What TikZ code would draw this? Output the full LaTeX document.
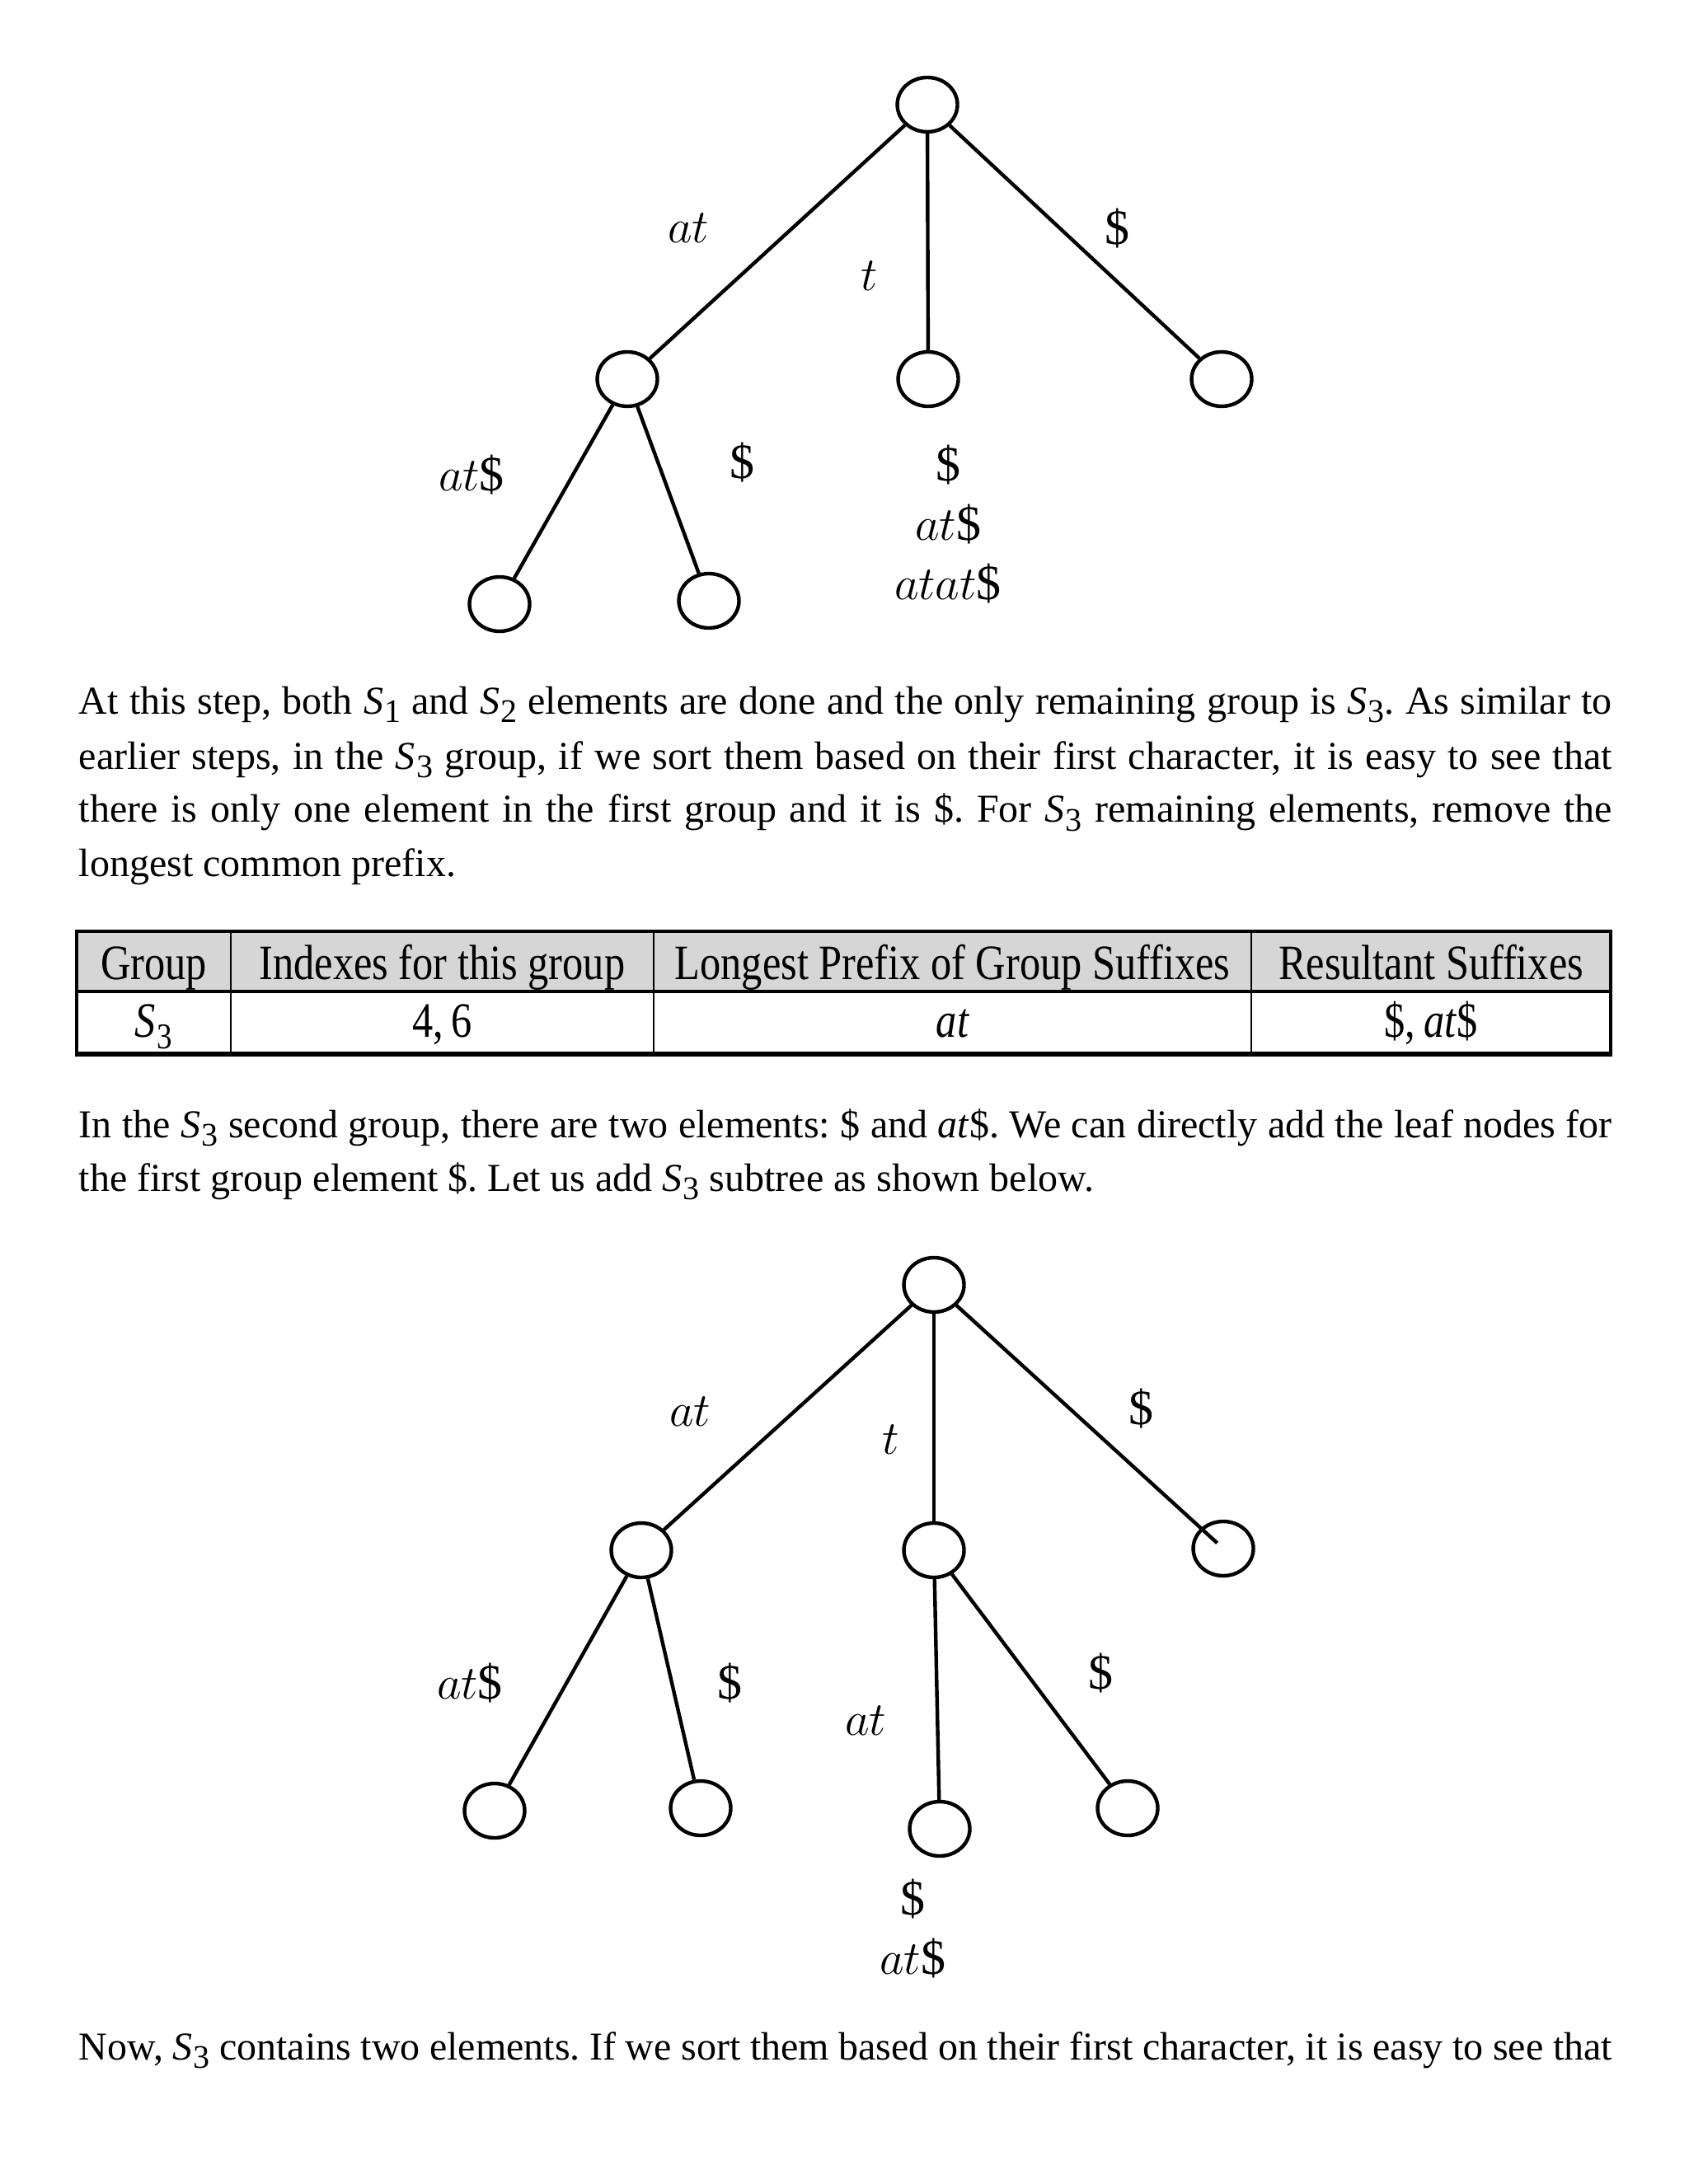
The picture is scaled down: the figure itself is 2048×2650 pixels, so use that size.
\documentclass[tikz,border=0pt]{standalone}
\usepackage{fontspec}
\setmainfont{Liberation Serif}
\newfontfamily\tabfont[FakeStretch=0.84]{Liberation Serif}
\usetikzlibrary{shapes.geometric}
\frenchspacing
\newcommand\Sx[1]{\textit{S}\kern0.3pt\raisebox{-2.5pt}{\fontsize{10}{12}\selectfont #1}}
\newcommand\dol{\textup{\$}}
\tikzset{
  tnode/.style={ellipse, draw, line width=1.1pt, minimum width=18.25pt, minimum height=16.5pt, inner sep=0pt},
  tedge/.style={line width=1.1pt},
  lbl/.style={font=\fontsize{15}{18}\selectfont, inner sep=0pt, align=center},
  para/.style={anchor=base west, inner sep=0pt, font=\fontsize{12}{16.25}\selectfont},
  thead/.style={anchor=base, inner sep=0pt, font=\tabfont\fontsize{15}{18}\selectfont},
  tbody/.style={anchor=base, inner sep=0pt, font=\tabfont\fontsize{15}{18}\selectfont},
}
\begin{document}
\begin{tikzpicture}[x=0.25pt, y=-0.25pt]
\useasboundingbox[fill=white] (0,0) rectangle (2048,2650);

% ---------- first tree ----------
\node[tnode] (R1) at (1125,127) {};
\node[tnode] (A1) at (761,460) {};
\node[tnode] (M1) at (1126,460) {};
\node[tnode] (Q1) at (1482,460) {};
\node[tnode] (L1) at (606,733) {};
\node[tnode] (N1) at (860,729) {};
\draw[tedge] (R1) -- (A1);
\draw[tedge] (R1) -- (M1);
\draw[tedge] (R1) -- (Q1);
\draw[tedge] (A1) -- (L1);
\draw[tedge] (A1) -- (N1);
\node[lbl] (la1) at (835,277) {$at$};
\node[lbl] (lt1) at (1055,335) {$t$};
\node[lbl] (ld1) at (1355,277) {\dol};
\node[lbl] (lat1) at (572,576) {$at$\dol};
\node[lbl] (ldd1) at (900,561) {\dol};
\node[lbl] (stk1) at (1150,636) {\dol\\$at$\dol\\$atat$\dol};

% ---------- paragraph 1 ----------
\node[para] (p1a) at (95,867) {\makebox[465pt][s]{At this step, both \Sx{1} and \Sx{2} elements are done and the only remaining group is \Sx{3}. As similar to}};
\node[para] (p1b) at (95,933) {\makebox[465pt][s]{earlier steps, in the \Sx{3} group, if we sort them based on their first character, it is easy to see that}};
\node[para] (p1c) at (95,998) {\makebox[465pt][s]{there is only one element in the first group and it is \$. For \Sx{3} remaining elements, remove the}};
\node[para] (p1d) at (95,1063) {longest common prefix.};

% ---------- table ----------
\fill[black!16] (93,1130) rectangle (1954,1203);
\draw[line width=0.8pt] (93,1203) -- (1954,1203);
\draw[line width=0.6pt] (280,1130) -- (280,1280);
\draw[line width=0.6pt] (793,1130) -- (793,1280);
\draw[line width=0.6pt] (1518,1130) -- (1518,1280);
\draw[line width=1pt] (93,1130) rectangle (1954,1280);
\draw[line width=1.5pt] (93,1279) -- (1954,1279);
\node[thead] (h1) at (186.5,1188) {Group};
\node[thead] (h2) at (536.5,1188) {Indexes for this group};
\node[thead] (h3) at (1155.5,1188) {Longest Prefix of Group Suffixes};
\node[thead] (h4) at (1736,1188) {Resultant Suffixes};
\node[tbody] (b1) at (186.5,1258) {\itshape S\kern0.5pt\raisebox{-3.5pt}{\fontsize{11}{12}\selectfont\upshape 3}};
\node[tbody] (b2) at (536.5,1258) {4,\,6};
\node[tbody] (b3) at (1155.5,1258) {\itshape at};
\node[tbody] (b4) at (1736,1258) {\$,\,\textit{at}\$};

% ---------- paragraph 2 ----------
\node[para] (p2a) at (95,1380) {\makebox[465pt][s]{In the \Sx{3} second group, there are two elements: \$ and \textit{at}\$. We can directly add the leaf nodes for}};
\node[para] (p2b) at (95,1445) {the first group element \$. Let us add \Sx{3} subtree as shown below.};

% ---------- second tree ----------
\node[tnode] (R2) at (1133,1559) {};
\node[tnode] (A2) at (778,1881) {};
\node[tnode] (M2) at (1133,1881) {};
\node[tnode] (Q2) at (1484,1879) {};
\node[tnode] (L2) at (600,2197) {};
\node[tnode] (N2) at (850,2194) {};
\node[tnode] (D2) at (1140,2219) {};
\node[tnode] (E2) at (1368,2194) {};
\draw[tedge] (R2) -- (A2);
\draw[tedge] (R2) -- (M2);
\draw[tedge, shorten >=2.5pt] (R2) -- (Q2.center);
\draw[tedge] (A2) -- (L2);
\draw[tedge] (A2) -- (N2);
\draw[tedge] (M2) -- (D2);
\draw[tedge] (M2) -- (E2);
\node[lbl] (la2) at (837,1713) {$at$};
\node[lbl] (lt2) at (1081,1747) {$t$};
\node[lbl] (ld2) at (1384,1709) {\dol};
\node[lbl] (lat2) at (570,2042) {$at$\dol};
\node[lbl] (ldd2) at (885,2042) {\dol};
\node[lbl] (lm2) at (1050,2088) {$at$};
\node[lbl] (le2) at (1335,2030) {\dol};
\node[lbl] (stk2) at (1107,2340) {\dol\\$at$\dol};

% ---------- last line ----------
\node[para] (p3) at (95,2499) {\makebox[465pt][s]{Now, \Sx{3} contains two elements. If we sort them based on their first character, it is easy to see that}};
\end{tikzpicture}
\end{document}
